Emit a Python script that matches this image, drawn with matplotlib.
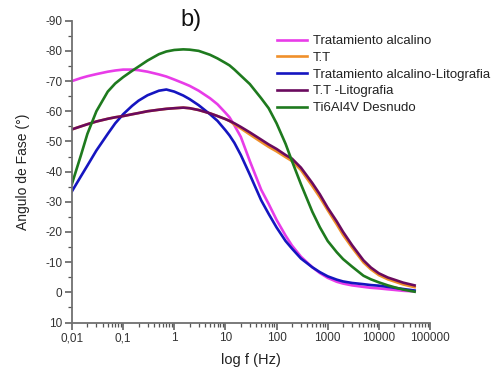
import matplotlib
matplotlib.use("Agg")
import matplotlib.pyplot as plt
from matplotlib.ticker import LogLocator, NullFormatter, MultipleLocator

plt.rcParams['font.family'] = ['Liberation Sans', 'DejaVu Sans']

freq = [0.01, 0.015, 0.02, 0.03, 0.05, 0.07, 0.1, 0.15, 0.2, 0.3, 0.5, 0.7, 1, 1.5, 2,
        3, 5, 7, 10, 12, 15, 20, 30, 50, 70, 100, 150, 200, 300, 500, 700, 1000, 1500,
        2000, 3000, 5000, 7000, 10000, 15000, 20000, 30000, 50000]

alcalino = [-70, -71, -71.6, -72.3, -73.1, -73.5, -73.8, -73.8, -73.6, -73.1, -72.2,
            -71.5, -70.5, -69.3, -68.4, -66.8, -64.3, -62.3, -59.5, -58, -55.3, -51.5,
            -43.5, -34, -29.3, -24, -18.8, -15.5, -11.8, -8.3, -6.4, -4.8, -3.5, -2.9,
            -2.3, -1.8, -1.5, -1.3, -1.0, -0.8, -0.5, -0.3]
tt = [-54, -55, -55.7, -56.6, -57.5, -58, -58.4, -59, -59.4, -60, -60.5, -60.8, -61,
      -61.2, -61, -60.4, -59.3, -58.4, -57.4, -56.8, -55.6, -54.3, -52.3, -49.8, -48.2,
      -46.7, -44.8, -43.5, -40.5, -35.2, -31.5, -27.2, -22.5, -19, -14.8, -9.9, -7.6,
      -5.7, -4.3, -3.6, -2.6, -1.7]
alc_lito = [-33.5, -38.5, -42, -47, -52.5, -56, -59, -61.8, -63.5, -65.3, -66.8, -67.2,
            -66.5, -65.2, -64, -62, -59, -56.8, -53.7, -52, -49.5, -45.5, -39, -30.5,
            -26, -21.5, -17, -14.5, -11.2, -8.3, -6.7, -5.3, -4.2, -3.6, -3.1, -2.7,
            -2.4, -2.2, -1.8, -1.5, -1.1, -0.6]
tt_lito = [-54, -55, -55.7, -56.6, -57.5, -58, -58.4, -59, -59.4, -60, -60.5, -60.8, -61,
           -61.2, -61, -60.4, -59.3, -58.4, -57.4, -56.8, -56, -54.8, -53, -50.6, -49,
           -47.5, -45.5, -44.3, -41.3, -36.2, -32.5, -28, -23.5, -20, -15.6, -10.6,
           -8.2, -6.3, -4.9, -4.2, -3.2, -2.3]
desnudo = [-36, -45.5, -52.5, -60, -66.5, -69.2, -71.3, -73.4, -74.8, -76.8, -78.9,
           -79.8, -80.3, -80.5, -80.4, -80, -78.7, -77.5, -76, -75.2, -73.8, -71.8, -69,
           -64.3, -61, -56, -49.2, -43.5, -35.8, -26.7, -21.6, -17, -13.3, -11, -8.5,
           -5.5, -4.3, -3.3, -2.3, -1.7, -0.9, -0.2]

labels = ["Tratamiento alcalino", "T.T", "Tratamiento alcalino-Litografia",
          "T.T -Litografia", "Ti6Al4V Desnudo"]
colors = ["#e83ce8", "#f0902a", "#1515c0", "#6a0a5e", "#1e7a1e"]
series = [alcalino, tt, alc_lito, tt_lito, desnudo]

xticks = [0.01, 0.1, 1, 10, 100, 1000, 10000, 100000]
xticklabels = ["0,01", "0,1", "1", "10", "100", "1000", "10000", "100000"]
yticks = [10, 0, -10, -20, -30, -40, -50, -60, -70, -80, -90]

fig = plt.figure(figsize=(4.95, 3.70), dpi=100)
ax = fig.add_axes([72/495, 1-322.5/370, (430-72)/495, (322.5-20.7)/370])

lines = []
for s, lab, c in zip(series, labels, colors):
    ln, = ax.plot(freq, s, color=c, lw=1.9, label=lab, solid_joinstyle='round')
    lines.append(ln)

ax.set_xscale('log')
ax.set_xlim(0.01, 100000)
ax.set_ylim(10, -90)
ax.set_xticks(xticks)
ax.set_xticklabels(xticklabels)
ax.xaxis.set_minor_locator(LogLocator(base=10, subs=range(2, 10), numticks=20))
ax.xaxis.set_minor_formatter(NullFormatter())
ax.set_yticks(yticks)
ax.set_yticklabels([str(v) for v in yticks])
ax.yaxis.set_minor_locator(MultipleLocator(5))

for sp in ['top', 'right']:
    ax.spines[sp].set_visible(False)
for sp in ['left', 'bottom']:
    ax.spines[sp].set_color('#707070')
    ax.spines[sp].set_linewidth(1.3)

ax.tick_params(which='major', direction='out', length=5, width=1.1, color='#555555',
               labelsize=8.5, labelcolor='#333333', pad=2)
ax.tick_params(which='minor', direction='out', length=3, width=0.9, color='#555555')

ax.set_xlabel("log f (Hz)", fontsize=10.5, color='#222222', labelpad=6)
ax.set_ylabel("Angulo de Fase (°)", fontsize=10, color='#222222', labelpad=11)

fig.text(191/495, 1-20/370, "b)", fontsize=17, ha='center', va='center', color='#111111')

leg = fig.legend(handles=lines, loc='upper left', bbox_to_anchor=(277/495, 1-35/370),
                 frameon=False, fontsize=9.5, handlelength=2.3, handletextpad=0.4,
                 labelspacing=0.34, borderpad=0, borderaxespad=0)
for t in leg.get_texts():
    t.set_color('#222222')

fig.savefig("out.png", dpi=100)
